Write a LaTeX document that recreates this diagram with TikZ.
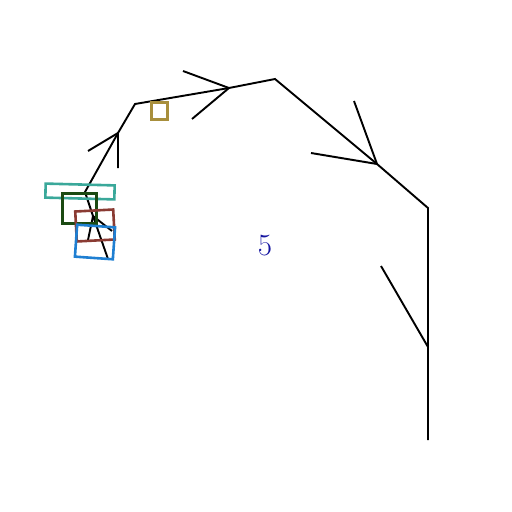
\documentclass[tikz,border=0pt]{standalone}
\usepackage{xcolor}
\definecolor{boxteal}{HTML}{3AA89A}
\definecolor{boxgreen}{HTML}{1B4A12}
\definecolor{boxbrown}{HTML}{8A3B33}
\definecolor{boxblue}{HTML}{1F7FD2}
\definecolor{boxgold}{HTML}{A88F3C}
\definecolor{labelblue}{HTML}{1414A0}

\begin{document}
\begin{tikzpicture}[x=0.5mm, y=-0.5mm,
    branch/.style={draw=black, line width=0.95mm},
    boxframe/.style={rectangle, draw=#1, line width=1.3mm, inner sep=0pt}]
            \useasboundingbox (0, 0) rectangle (512, 512);

            % trunk
            \coordinate (t0) at (428, 440);
            \coordinate (t1) at (428, 347);
            \coordinate (t2) at (428, 208);
            \coordinate (t3) at (377, 164);
            \coordinate (t4) at (275, 79);
            \coordinate (t5) at (229, 88);
            \coordinate (t6) at (135, 104);
            \coordinate (t7) at (118, 133);
            \coordinate (t8) at (85, 192);
            \coordinate (t9) at (93, 216);
            \coordinate (t10) at (108, 259);

            % twig ends
            \coordinate (a1) at (381, 266);
            \coordinate (b1) at (311, 153);
            \coordinate (b2) at (354, 101);
            \coordinate (c1) at (183, 71);
            \coordinate (c2) at (192, 119);
            \coordinate (d1) at (88, 151);
            \coordinate (d2) at (118, 168);
            \coordinate (e1) at (112, 231);
            \coordinate (e2) at (88, 240);

            \draw[branch] (t0) -- (t1) -- (t2) -- (t3) -- (t4) -- (t5) -- (t6)
                -- (t7) -- (t8) -- (t9) -- (t10);
            \draw[branch] (t1) -- (a1);
            \draw[branch] (b1) -- (t3) -- (b2);
            \draw[branch] (c1) -- (t5) -- (c2);
            \draw[branch] (d1) -- (t7) -- (d2);
            \draw[branch] (e1) -- (t9) -- (e2);

            % boxes
            \node[boxframe=boxgold, minimum width=8mm, minimum height=8.5mm] (gold) at (159.5, 111) {};
            \node[boxframe=boxteal, rotate=-1.5, minimum width=34.5mm, minimum height=7mm] (teal) at (80, 191.5) {};
            \node[boxframe=boxgreen, minimum width=17mm, minimum height=15mm] (green) at (79.5, 208.5) {};
            \node[boxframe=boxbrown, rotate=3, minimum width=19mm, minimum height=15mm] (brown) at (95, 225.5) {};
            \node[boxframe=boxblue, rotate=-4, minimum width=19mm, minimum height=16mm] (blue) at (95, 242) {};

            \node[text=labelblue, font=\fontsize{44}{48}\selectfont] (num) at (265, 246) {5};

        \end{tikzpicture}
\end{document}
